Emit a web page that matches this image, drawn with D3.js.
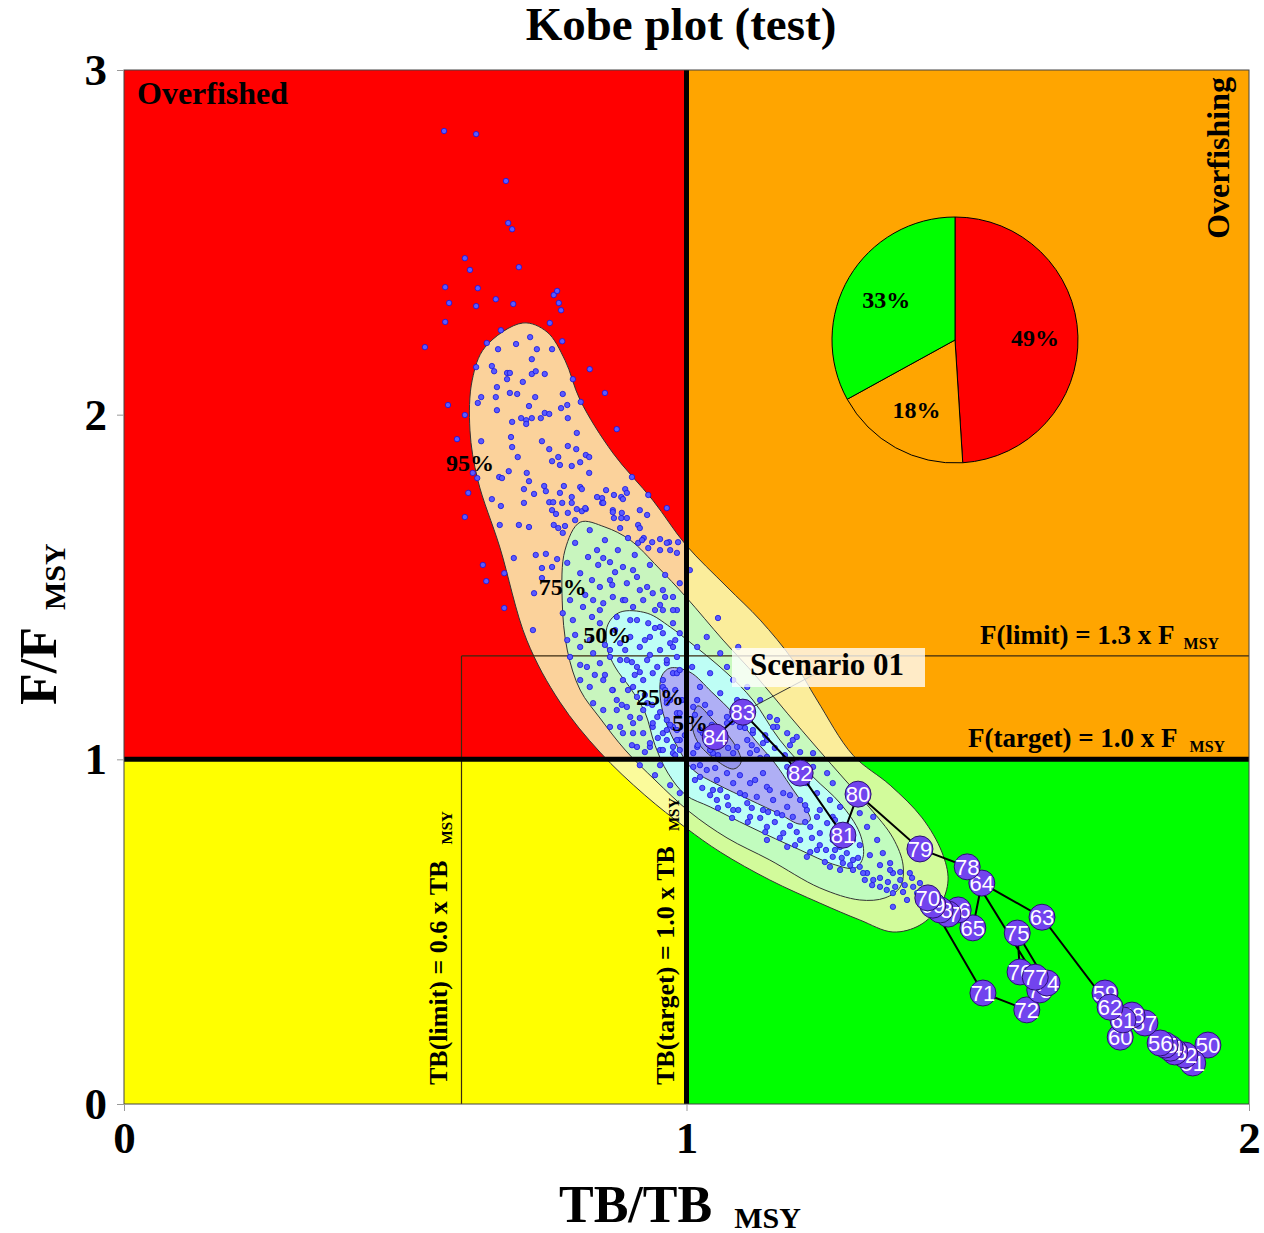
<!DOCTYPE html>
<html>
<head>
<meta charset="utf-8">
<script src="https://d3js.org/d3.v7.min.js"></script>
<style>
    body { margin: 0; background: #fff; }
    svg { display: block; }
    text { font-family: "Liberation Serif", "Times New Roman", serif; font-weight: bold; }
</style>
</head>
<body>
<div id="viz"></div>
<script>

// ---- data ----
var xTicks = [0, 1, 2];
var yTicks = [0, 1, 2, 3];

var years  = [50,51,52,53,54,55,56,57,58,59,60,61,62,63,64,65,66,67,68,69,70,71,72,73,74,75,76,77,78,79,80,81,82,83,84];
var tbTraj = [1.927,1.900,1.886,1.868,1.860,1.851,1.842,1.815,1.792,1.744,1.771,1.776,1.753,1.632,1.525,1.509,1.483,1.465,1.451,1.438,1.429,1.527,1.605,1.628,1.641,1.588,1.593,1.620,1.499,1.415,1.305,1.278,1.202,1.100,1.051];
var fTraj  = [0.171,0.119,0.142,0.151,0.162,0.171,0.177,0.235,0.258,0.322,0.194,0.244,0.281,0.542,0.641,0.511,0.563,0.551,0.563,0.577,0.598,0.322,0.273,0.331,0.351,0.496,0.383,0.368,0.688,0.740,0.899,0.780,0.960,1.137,1.065];

var pieValues = [49, 18, 33];
var pieColors = ["#ff0000", "#ffa500", "#00ff00"];

var contourLabels = ["95%", "75%", "50%", "25%", "5%"];
var contourLabelPos = [[0.615,1.862],[0.780,1.500],[0.859,1.361],[0.953,1.181],[1.006,1.108]];

var contour95 = [[0.709,2.266],[0.752,2.240],[0.784,2.158],[0.811,2.042],[0.869,1.889],[0.940,1.752],[0.999,1.622],[1.072,1.500],[1.131,1.404],[1.189,1.288],[1.232,1.172],[1.296,1.012],[1.362,0.925],[1.419,0.830],[1.454,0.731],[1.465,0.650],[1.451,0.577],[1.415,0.519],[1.367,0.499],[1.308,0.534],[1.237,0.583],[1.148,0.650],[1.060,0.731],[0.999,0.801],[0.926,0.896],[0.846,1.021],[0.775,1.166],[0.716,1.346],[0.668,1.616],[0.629,1.810],[0.615,1.955],[0.619,2.100],[0.642,2.196]];
var contour75 = [[0.811,1.688],[0.855,1.674],[0.900,1.636],[0.949,1.558],[0.999,1.471],[1.065,1.346],[1.125,1.239],[1.179,1.134],[1.232,1.033],[1.282,0.940],[1.326,0.859],[1.367,0.772],[1.385,0.693],[1.380,0.630],[1.353,0.598],[1.308,0.592],[1.237,0.627],[1.148,0.708],[1.072,0.772],[1.006,0.847],[0.944,0.940],[0.891,1.027],[0.846,1.120],[0.811,1.201],[0.788,1.317],[0.779,1.462],[0.784,1.607]];
var contour50 = [[0.882,1.427],[0.930,1.424],[0.971,1.384],[1.006,1.340],[1.072,1.250],[1.118,1.172],[1.166,1.056],[1.225,0.949],[1.273,0.873],[1.308,0.786],[1.314,0.717],[1.300,0.685],[1.260,0.696],[1.202,0.737],[1.113,0.804],[1.042,0.862],[0.999,0.896],[0.967,0.960],[0.944,1.041],[0.926,1.137],[0.900,1.207],[0.873,1.268],[0.859,1.323],[0.860,1.390]];
var contour25 = [[0.971,1.265],[1.006,1.253],[1.045,1.195],[1.086,1.129],[1.122,1.056],[1.157,0.989],[1.184,0.925],[1.211,0.859],[1.220,0.824],[1.202,0.812],[1.166,0.841],[1.113,0.882],[1.054,0.928],[1.012,0.969],[0.985,1.033],[0.962,1.114],[0.953,1.187],[0.956,1.242]];
var contour5  = [[1.020,1.155],[1.047,1.114],[1.083,1.050],[1.097,0.992],[1.084,0.972],[1.052,0.998],[1.020,1.050],[1.010,1.105]];

// posterior draws (TB/TBmsy, F/Fmsy)
var draws = [
[0.571,2.370],[0.629,2.367],[0.578,2.324],[0.626,2.315],[0.661,2.335],[0.692,2.321],[0.764,2.347],[0.770,2.359],[0.773,2.324],[0.777,2.303],[0.571,2.269],[0.757,2.266],[0.535,2.196],[0.645,2.208],[0.670,2.245],[0.697,2.205],[0.722,2.225],[0.734,2.190],[0.761,2.190],[0.779,2.213],[0.665,2.190],[0.626,2.138],[0.654,2.141],[0.658,2.126],[0.681,2.121],[0.686,2.121],[0.681,2.103],[0.725,2.161],[0.725,2.118],[0.732,2.126],[0.748,2.118],[0.798,2.103],[0.828,2.132],[0.663,2.080],[0.709,2.095],[0.635,2.051],[0.629,2.034],[0.661,2.051],[0.686,2.063],[0.699,2.060],[0.731,2.051],[0.780,2.060],[0.855,2.063],[0.576,2.028],[0.720,2.025],[0.663,2.013],[0.606,1.999],[0.788,2.028],[0.777,2.019],[0.812,2.037],[0.706,1.990],[0.715,1.984],[0.715,1.973],[0.725,1.990],[0.741,1.990],[0.748,2.005],[0.756,2.002],[0.789,1.990],[0.690,1.979],[0.876,1.958],[0.805,1.947],[0.688,1.935],[0.592,1.929],[0.635,1.923],[0.690,1.906],[0.743,1.923],[0.756,1.900],[0.789,1.909],[0.804,1.900],[0.821,1.883],[0.827,1.877],[0.700,1.877],[0.772,1.877],[0.761,1.865],[0.775,1.854],[0.796,1.851],[0.811,1.862],[0.684,1.836],[0.716,1.831],[0.827,1.831],[0.620,1.831],[0.628,1.816],[0.667,1.819],[0.672,1.816],[0.720,1.807],[0.903,1.819],[0.612,1.773],[0.711,1.784],[0.729,1.770],[0.747,1.793],[0.750,1.778],[0.775,1.773],[0.782,1.793],[0.796,1.761],[0.811,1.790],[0.814,1.784],[0.841,1.761],[0.850,1.758],[0.857,1.781],[0.871,1.767],[0.884,1.761],[0.887,1.755],[0.891,1.784],[0.894,1.773],[0.932,1.767],[0.654,1.755],[0.670,1.735],[0.711,1.744],[0.756,1.746],[0.763,1.746],[0.761,1.723],[0.768,1.712],[0.779,1.744],[0.789,1.715],[0.805,1.726],[0.814,1.720],[0.821,1.726],[0.850,1.744],[0.869,1.723],[0.871,1.700],[0.884,1.700],[0.894,1.700],[0.606,1.703],[0.668,1.680],[0.702,1.680],[0.720,1.674],[0.764,1.680],[0.772,1.671],[0.784,1.677],[0.914,1.680],[0.917,1.671],[0.924,1.642],[0.953,1.639],[0.969,1.630],[0.985,1.630],[0.932,1.613],[0.914,1.628],[0.896,1.642],[0.638,1.564],[0.644,1.517],[0.676,1.540],[0.693,1.584],[0.732,1.593],[0.750,1.596],[0.729,1.482],[0.743,1.526],[0.743,1.555],[0.761,1.558],[0.770,1.581],[0.676,1.439],[0.727,1.375],
[0.569,2.823],[0.626,2.814],[0.679,2.678],[0.683,2.556],[0.690,2.538],[0.702,2.428],[0.606,2.454],[0.615,2.420],
[0.796,1.744],[0.820,1.729],[0.852,1.744],[0.869,1.717],[0.885,1.715],[0.917,1.723],[0.930,1.709],[0.965,1.729],[0.780,1.657],[0.802,1.628],[0.825,1.587],[0.841,1.607],[0.852,1.584],[0.864,1.572],[0.878,1.607],[0.887,1.558],[0.905,1.549],[0.921,1.636],[0.939,1.630],[0.953,1.607],[0.983,1.599],[0.788,1.570],[0.811,1.540],[0.832,1.520],[0.846,1.500],[0.864,1.520],[0.873,1.543],[0.894,1.511],[0.912,1.529],[0.930,1.500],[0.940,1.482],[0.958,1.491],[0.976,1.471],[0.793,1.462],[0.816,1.442],[0.834,1.462],[0.852,1.453],[0.869,1.471],[0.887,1.462],[0.905,1.442],[0.923,1.462],[0.944,1.433],[0.958,1.433],[0.983,1.433],[0.780,1.424],[0.798,1.404],[0.832,1.413],[0.846,1.395],[0.876,1.413],[0.912,1.404],[0.932,1.395],[0.953,1.384],[0.976,1.395],[0.988,1.366],[0.788,1.346],[0.811,1.326],[0.793,1.297],[0.834,1.308],[0.846,1.279],[0.823,1.268],[0.864,1.297],[0.882,1.337],[0.900,1.355],[0.917,1.326],[0.935,1.355],[0.953,1.317],[0.971,1.337],[0.983,1.297],[0.894,1.288],[0.912,1.268],[0.930,1.288],[0.948,1.268],[0.965,1.279],[0.811,1.230],[0.828,1.210],[0.852,1.230],[0.869,1.201],[0.887,1.230],[0.905,1.210],[0.923,1.230],[0.940,1.250],[0.958,1.230],[0.976,1.250],[0.834,1.163],[0.852,1.143],[0.876,1.172],[0.894,1.152],[0.912,1.181],[0.930,1.163],[0.948,1.123],[0.965,1.172],[0.983,1.134],[0.864,1.094],[0.887,1.076],[0.905,1.105],[0.923,1.076],[0.940,1.094],[0.958,1.076],[0.976,1.094],[0.912,1.036],[0.935,1.036],[0.953,1.027],[0.976,1.036],[0.988,1.056],
[1.006,1.549],[1.056,1.410],[1.092,1.326],[1.036,1.355],[1.019,1.326],[1.060,1.308],[1.010,1.268],[1.042,1.250],[1.072,1.268],[1.083,1.230],[1.108,1.210],[1.131,1.172],[1.148,1.123],[1.161,1.094],[1.189,1.056],[1.225,1.018],[1.024,1.210],[1.060,1.192],[1.090,1.172],[1.019,1.172],[1.042,1.134],[1.072,1.123],[1.095,1.094],[1.118,1.076],[1.136,1.047],[1.029,1.076],[1.065,1.056],[1.090,1.036],[1.113,1.018],[1.012,1.018],[1.047,1.018],[1.143,1.007],
[0.965,1.628],[0.971,1.607],[0.988,1.511],[0.962,1.471],[0.976,1.433],[0.958,1.366],[0.976,1.326],[0.965,1.288],[0.983,1.250],[0.958,1.210],[0.971,1.172],[0.988,1.134],[0.965,1.114],[0.983,1.085],[0.965,1.056],[0.988,1.027],
[0.876,1.143],[0.900,1.123],[0.923,1.143],[0.940,1.105],[0.965,1.085],[0.983,1.056],[0.905,1.076],[0.935,1.047],[0.958,1.027],[0.882,1.094],[0.976,1.018],[1.012,1.152],[1.024,1.085],[1.019,1.036],[1.042,1.027],[1.065,1.047],[1.083,1.018],[1.108,1.056],[1.125,1.027],[1.143,1.056],[1.154,1.094],[1.161,1.114],[1.179,1.076],[1.196,1.065],[1.118,1.085],[1.072,1.105],[1.095,1.134],
[1.012,0.978],[1.024,0.949],[1.036,0.969],[1.054,0.940],[1.047,0.911],[1.072,0.960],[1.083,0.931],[1.072,0.891],[1.095,0.902],[1.113,0.931],[1.108,0.873],[1.125,0.891],[1.136,0.960],[1.143,0.920],[1.136,0.853],[1.154,0.882],[1.161,0.844],[1.172,0.902],[1.179,0.862],[1.189,0.833],[1.202,0.882],[1.214,0.853],[1.220,0.804],[1.232,0.833],[1.237,0.786],[1.250,0.815],[1.260,0.766],[1.273,0.746],[1.285,0.728],[1.296,0.708],[1.308,0.688],[1.321,0.670],[1.332,0.650],[1.344,0.630],[1.356,0.621],[1.367,0.612],[1.385,0.615],[1.403,0.630],[1.415,0.641],[1.054,0.882],[1.083,0.853],[1.113,0.833],[1.143,0.804],[1.172,0.786],[1.202,0.766],[1.232,0.737],[1.260,0.717],[1.278,0.699],[1.296,0.679],[1.314,0.670],[1.255,0.688],[1.214,0.717],[1.179,0.746],[1.143,0.766],[1.321,0.804],[1.339,0.766],[1.349,0.728],[1.362,0.699],[1.332,0.833],[1.308,0.844],[1.296,0.882],[1.260,0.931],[1.250,0.960],[1.225,0.978],[1.273,0.862],[1.367,0.670],[1.380,0.650],[1.179,0.978],[1.214,0.931],[1.232,0.902],[1.255,0.882],[1.260,0.833],[1.285,0.804],[1.296,0.766],[1.392,0.592],[1.410,0.612],[1.367,0.572],[1.397,0.670],
[0.917,0.983],[0.944,0.954],[0.971,0.925],[0.988,0.902],[0.953,0.983],
[0.891,1.317],[0.903,1.282],[0.917,1.253],[0.896,1.201],[0.926,1.187],[0.939,1.158],[0.953,1.137],[0.917,1.120],[0.965,1.163],[0.980,1.201],[0.992,1.172],[0.971,1.100],[0.949,1.062],[0.926,1.021],[0.903,1.041],[0.980,1.012],[0.997,1.070],[0.885,1.158],[0.868,1.201],[0.855,1.245],
[1.015,1.129],[1.033,1.158],[1.045,1.100],[1.063,1.070],[1.081,1.108],[1.104,1.091],[1.116,1.041],[1.140,1.070],[1.157,1.033],[1.175,1.012],[1.020,1.041],[1.038,1.062],[1.056,1.012],[1.074,1.033],[1.131,1.004],[1.184,1.041],[1.202,1.021],
[1.015,0.940],[1.028,0.917],[1.042,0.896],[1.060,0.911],[1.074,0.867],[1.092,0.853],[1.104,0.896],[1.116,0.859],[1.131,0.830],[1.145,0.847],[1.157,0.818],[1.170,0.838],[1.184,0.807],[1.196,0.789],[1.211,0.818],[1.223,0.772],[1.237,0.751],[1.248,0.737],[1.264,0.737],[1.276,0.714],[1.291,0.693],[1.305,0.714],[1.317,0.650],[1.330,0.635],[1.344,0.656],[1.358,0.644],[1.371,0.630],[1.388,0.635],[1.024,0.983],[1.051,0.975],[1.095,0.954],[1.122,0.940],[1.148,0.911],[1.184,0.896],[1.211,0.867],[1.237,0.853],[1.264,0.824],[1.287,0.786],[1.308,0.751],[1.326,0.722],[1.344,0.693],[1.362,0.679],[1.380,0.673],[1.401,0.656],[1.273,0.679],[1.246,0.702],[1.220,0.731],[1.193,0.751],[1.166,0.772],[1.140,0.789],[1.109,0.818],[1.081,0.830],[1.056,0.859],
[0.802,1.694],[0.828,1.665],[0.855,1.636],[0.882,1.671],[0.908,1.593],[0.935,1.564],[0.962,1.535],[0.820,1.477],[0.846,1.433],[0.873,1.375],[0.900,1.404],[0.926,1.346],[0.953,1.448],[0.980,1.346],[0.802,1.361],[0.828,1.346],[0.855,1.332],[0.882,1.288],[0.908,1.245],[0.935,1.303],[0.962,1.201],[0.811,1.274],[0.837,1.245],[0.864,1.317],[0.988,1.259],[0.944,1.381],[0.917,1.491],[0.891,1.462],[0.868,1.506],[0.843,1.564]
];

// ---- chart ----
var W = 1264, H = 1233;
var svg = d3.select("#viz").append("svg")
    .attr("width", W)
    .attr("height", H);

var x = d3.scaleLinear().domain([0, 2]).range([124, 1249]);
var y = d3.scaleLinear().domain([0, 3]).range([1104, 70]);

// quadrants
var quads = [
    {x0: 0, x1: 1, y0: 1, y1: 3, c: "#ff0000"},
    {x0: 1, x1: 2, y0: 1, y1: 3, c: "#ffa500"},
    {x0: 0, x1: 1, y0: 0, y1: 1, c: "#ffff00"},
    {x0: 1, x1: 2, y0: 0, y1: 1, c: "#00ff00"}
];
svg.selectAll("rect.quad").data(quads).enter().append("rect")
    .attr("class", "quad")
    .attr("x", function(d){ return x(d.x0); })
    .attr("y", function(d){ return y(d.y1); })
    .attr("width", function(d){ return x(d.x1) - x(d.x0); })
    .attr("height", function(d){ return y(d.y0) - y(d.y1); })
    .style("fill", function(d){ return d.c; });

// density contours
var contours = [contour95, contour75, contour50, contour25, contour5];
var contourFill = ["rgb(250,250,185)", "rgb(190,252,197)", "rgb(188,255,255)", "rgb(172,160,244)", "rgb(145,145,233)"];
var shape = d3.line()
    .x(function(d){ return x(d[0]); })
    .y(function(d){ return y(d[1]); })
    .curve(d3.curveCatmullRomClosed.alpha(0.5));

svg.selectAll("path.contour").data(contours).enter().append("path")
    .attr("class", "contour")
    .attr("d", shape)
    .style("fill", function(d, i){ return contourFill[i]; })
    .style("fill-opacity", 0.84)
    .style("stroke", "#333")
    .style("stroke-width", 1);

// reference limits (thin)
svg.append("line")
    .attr("x1", x(0.6)).attr("x2", x(2))
    .attr("y1", y(1.3)).attr("y2", y(1.3))
    .style("stroke", "#3a2a10").style("stroke-width", 1.2);
svg.append("line")
    .attr("x1", x(0.6)).attr("x2", x(0.6))
    .attr("y1", y(0)).attr("y2", y(1.3))
    .style("stroke", "#3a2a10").style("stroke-width", 1.2);

// draws
svg.selectAll("circle.draw").data(draws).enter().append("circle")
    .attr("class", "draw")
    .attr("cx", function(d){ return x(d[0]); })
    .attr("cy", function(d){ return y(d[1]); })
    .attr("r", 2.7)
    .style("fill", "#5a5aff")
    .style("stroke", "#1515e0")
    .style("stroke-width", 0.8);

// contour labels
svg.selectAll("text.clab").data(contourLabelPos).enter().append("text")
    .attr("class", "clab")
    .attr("x", function(d){ return x(d[0]); })
    .attr("y", function(d){ return y(d[1]); })
    .attr("dy", "0.35em")
    .attr("text-anchor", "middle")
    .style("font-size", "24px")
    .text(function(d, i){ return contourLabels[i]; });

// target lines (thick)
svg.append("line")
    .attr("x1", x(1)).attr("x2", x(1))
    .attr("y1", y(0)).attr("y2", y(3))
    .style("stroke", "#000").style("stroke-width", 5);
svg.append("line")
    .attr("x1", x(0)).attr("x2", x(2))
    .attr("y1", y(1)).attr("y2", y(1))
    .style("stroke", "#000").style("stroke-width", 5);

// plot border
svg.append("rect")
    .attr("x", x(0)).attr("y", y(3))
    .attr("width", x(2) - x(0)).attr("height", y(0) - y(3))
    .style("fill", "none").style("stroke", "#444").style("stroke-width", 1);

// scenario label (leader line goes under the box)
var p83 = years.indexOf(83);
svg.append("line")
    .attr("x1", x(tbTraj[p83])).attr("y1", y(fTraj[p83]))
    .attr("x2", 817).attr("y2", 673)
    .style("stroke", "#333").style("stroke-width", 1);
svg.append("rect")
    .attr("x", 732).attr("y", 648).attr("width", 193).attr("height", 39)
    .style("fill", "#fff").style("fill-opacity", 0.78);
svg.append("text")
    .attr("x", 750).attr("y", 675)
    .style("font-size", "31px")
    .text("Scenario 01");

// trajectory
var traj = years.map(function(yr, i){ return {year: yr, tb: tbTraj[i], f: fTraj[i]}; });
var trajLine = d3.line()
    .x(function(d){ return x(d.tb); })
    .y(function(d){ return y(d.f); });
svg.append("path")
    .datum(traj)
    .attr("d", trajLine)
    .style("fill", "none")
    .style("stroke", "#000")
    .style("stroke-width", 2);

var pts = svg.selectAll("g.yr").data(traj).enter().append("g")
    .attr("class", "yr")
    .attr("transform", function(d){ return "translate(" + x(d.tb) + "," + y(d.f) + ")"; });
pts.append("circle")
    .attr("r", 13)
    .style("fill", "#7244ee")
    .style("stroke", "#2a1070")
    .style("stroke-width", 1);
pts.append("text")
    .attr("text-anchor", "middle")
    .attr("dy", "0.36em")
    .style("font-family", "'Liberation Sans', Arial, sans-serif")
    .style("font-weight", "normal")
    .style("font-size", "22px")
    .style("fill", "#fff")
    .text(function(d){ return d.year; });

// pie inset
var pie = d3.pie().sort(null).startAngle(0).endAngle(2 * Math.PI);
var R = 123;
var arc = d3.arc().innerRadius(0).outerRadius(R);
var labelArc = d3.arc().innerRadius(R * 0.65).outerRadius(R * 0.65);
var pg = svg.append("g").attr("transform", "translate(955,340)");
var slices = pg.selectAll("g.slice").data(pie(pieValues)).enter().append("g").attr("class", "slice");
slices.append("path")
    .attr("d", arc)
    .style("fill", function(d, i){ return pieColors[i]; })
    .style("stroke", "#000")
    .style("stroke-width", 1);
slices.append("text")
    .attr("transform", function(d){ return "translate(" + labelArc.centroid(d) + ")"; })
    .attr("text-anchor", "middle")
    .attr("dy", "0.35em")
    .style("font-size", "24px")
    .text(function(d){ return d.value + "%"; });

// quadrant names
svg.append("text")
    .attr("x", 137).attr("y", 104)
    .style("font-size", "32px")
    .text("Overfished");
svg.append("text")
    .attr("transform", "translate(1229,77) rotate(-90)")
    .attr("text-anchor", "end")
    .style("font-size", "32px")
    .text("Overfishing");

// reference point labels
var t1 = svg.append("text").attr("x", 980).attr("y", 644).style("font-size", "27px");
t1.append("tspan").text("F(limit) = 1.3 x F");
t1.append("tspan").attr("dx", 9).attr("dy", 5).style("font-size", "16px").text("MSY");

var t2 = svg.append("text").attr("x", 968).attr("y", 747).style("font-size", "27px");
t2.append("tspan").text("F(target) = 1.0 x F");
t2.append("tspan").attr("dx", 12).attr("dy", 5).style("font-size", "16px").text("MSY");

var t3 = svg.append("text").attr("transform", "translate(447,1085) rotate(-90)").style("font-size", "26px");
t3.append("tspan").text("TB(limit) = 0.6 x TB");
t3.append("tspan").attr("dx", 16).attr("dy", 5).style("font-size", "15px").text("MSY");

var t4 = svg.append("text").attr("transform", "translate(674,1085) rotate(-90)").style("font-size", "26px");
t4.append("tspan").text("TB(target) = 1.0 x TB");
t4.append("tspan").attr("dx", 15).attr("dy", 5).style("font-size", "15px").text("MSY");

// axes
var yAxis = svg.append("g")
    .attr("transform", "translate(" + x(0) + ",0)")
    .call(d3.axisLeft(y).tickValues(yTicks).tickSize(7).tickPadding(10).tickFormat(d3.format("d")));
var xAxis = svg.append("g")
    .attr("transform", "translate(0," + y(0) + ")")
    .call(d3.axisBottom(x).tickValues(xTicks).tickSize(7).tickPadding(10).tickFormat(d3.format("d")));
[yAxis, xAxis].forEach(function(a){
    a.select(".domain").remove();
    a.selectAll(".tick line").style("stroke", "#999");
    a.selectAll(".tick text")
        .style("font-family", "'Liberation Serif', 'Times New Roman', serif")
        .style("font-weight", "bold")
        .style("font-size", "45px")
        .style("fill", "#000");
});

// titles
svg.append("text")
    .attr("x", 681).attr("y", 40)
    .attr("text-anchor", "middle")
    .style("font-size", "47px")
    .text("Kobe plot (test)");

var xt = svg.append("text").attr("x", 559).attr("y", 1222).style("font-size", "52px");
xt.append("tspan").text("TB/TB");
xt.append("tspan").attr("dx", 22).attr("dy", 6).style("font-size", "30px").text("MSY");

var yt = svg.append("text").attr("transform", "translate(56,705) rotate(-90)").style("font-size", "52px");
yt.append("tspan").text("F/F");
yt.append("tspan").attr("dx", 17).attr("dy", 9).style("font-size", "30px").text("MSY");

</script>
</body>
</html>
